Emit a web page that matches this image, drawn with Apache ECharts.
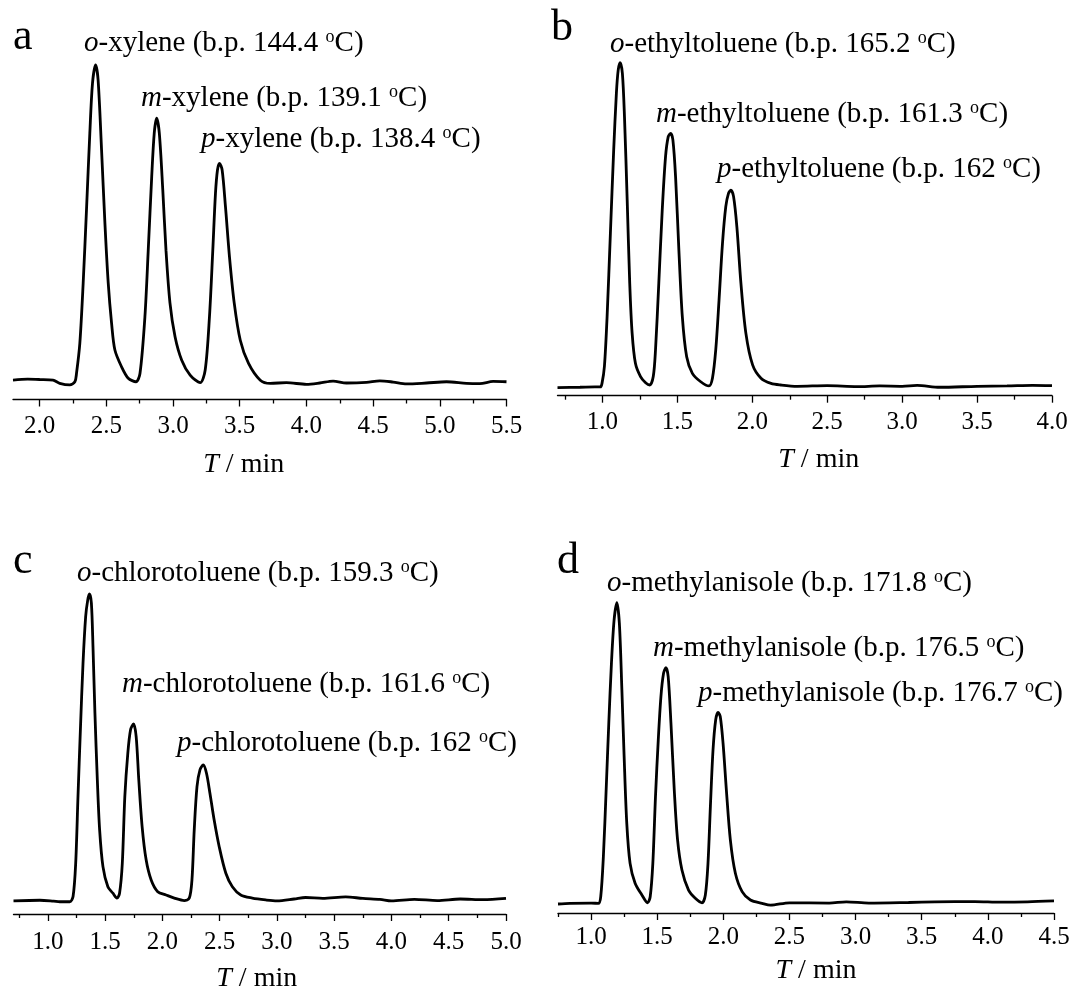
<!DOCTYPE html>
<html><head><meta charset="utf-8">
<script src="https://cdn.jsdelivr.net/npm/echarts@6/dist/echarts.min.js"></script>
<style>html,body{margin:0;padding:0;background:#fff}#c{width:1072px;height:987px}</style>
</head><body><div id="c"></div>
<script>
// ---------------- DATA ----------------
const isomers = ['o', 'm', 'p'];
const compounds = ['xylene', 'ethyltoluene', 'chlorotoluene', 'methylanisole'];
const panelLetters = ['a', 'b', 'c', 'd'];
const boilingA = ['144.4', '139.1', '138.4'];
const boilingB = ['165.2', '161.3', '162'];
const boilingC = ['159.3', '161.6', '162'];
const boilingD = ['171.8', '176.5', '176.7'];

const majorA = [2.0, 2.5, 3.0, 3.5, 4.0, 4.5, 5.0, 5.5];
const minorA = [2.25, 2.75, 3.25, 3.75, 4.25, 4.75, 5.25];
const majorB = [1.0, 1.5, 2.0, 2.5, 3.0, 3.5, 4.0];
const minorB = [0.75, 1.25, 1.75, 2.25, 2.75, 3.25, 3.75];
const majorC = [1.0, 1.5, 2.0, 2.5, 3.0, 3.5, 4.0, 4.5, 5.0];
const minorC = [0.75, 1.25, 1.75, 2.25, 2.75, 3.25, 3.75, 4.25, 4.75];
const majorD = [1.0, 1.5, 2.0, 2.5, 3.0, 3.5, 4.0, 4.5];
const minorD = [0.75, 1.25, 1.75, 2.25, 2.75, 3.25, 3.75, 4.25];

// [retention time (min), signal (a.u.)]
const traceA = [[1.80,0.6],[1.91,0.9],[2.00,0.8],[2.10,0.6],[2.15,-0.4],[2.226,-0.9],[2.264,0.1],[2.276,2.7],[2.301,12.2],[2.326,31.1],[2.351,54.3],[2.376,78.5],[2.396,94.2],[2.419,100],[2.438,95.3],[2.464,73.2],[2.489,50.2],[2.514,31.2],[2.539,18.6],[2.564,10.1],[2.614,4.8],[2.664,1.2],[2.722,0.1],[2.752,2.7],[2.789,20.6],[2.814,41.6],[2.840,64.8],[2.859,78.5],[2.877,83.2],[2.897,78.5],[2.923,60.6],[2.947,41.6],[2.977,24.9],[3.015,14.3],[3.065,6.9],[3.128,2.2],[3.203,-0.2],[3.241,3.8],[3.273,20.6],[3.298,41.6],[3.318,59.5],[3.333,66.9],[3.348,69.0],[3.368,66.9],[3.393,55.3],[3.423,39.5],[3.459,24.8],[3.504,13.2],[3.566,5.9],[3.654,0.6],[3.729,-0.4],[3.85,-0.2],[4.0,-0.7],[4.1,-0.3],[4.2,0.3],[4.3,-0.3],[4.45,-0.1],[4.55,0.4],[4.65,0.0],[4.75,-0.6],[4.9,-0.3],[5.05,0.1],[5.2,-0.4],[5.3,-0.5],[5.4,0.2],[5.5,0.1]];
const traceB = [[0.70,-0.2],[0.85,-0.1],[0.95,0.0],[0.986,0.0],[0.997,1.1],[1.013,6.3],[1.031,21.7],[1.053,47.4],[1.075,73.1],[1.093,90.6],[1.105,97.7],[1.118,100],[1.133,96.7],[1.147,83.3],[1.165,57.7],[1.182,32.0],[1.198,16.6],[1.220,7.3],[1.254,3.2],[1.288,1.3],[1.316,0.6],[1.339,3.2],[1.354,11.4],[1.376,32.0],[1.399,54.6],[1.421,71.0],[1.439,77.2],[1.455,78.2],[1.470,76.2],[1.488,64.8],[1.510,42.2],[1.533,21.7],[1.562,9.3],[1.600,4.2],[1.656,1.6],[1.711,0.3],[1.734,2.7],[1.756,11.4],[1.778,26.8],[1.801,44.3],[1.823,55.6],[1.841,59.7],[1.857,60.7],[1.875,58.7],[1.897,49.4],[1.924,32.0],[1.957,16.6],[2.002,6.8],[2.058,2.7],[2.125,1.1],[2.191,0.6],[2.3,0.2],[2.5,0.4],[2.7,0.1],[2.85,0.3],[3.0,0.2],[3.1,0.5],[3.25,-0.1],[3.5,0.2],[3.7,0.3],[3.87,0.5],[4.0,0.4]];
const traceC = [[0.70,-0.3],[0.93,-0.1],[1.05,-0.4],[1.104,-0.6],[1.191,-0.6],[1.220,1.1],[1.243,12.0],[1.263,33.8],[1.284,55.6],[1.307,77.4],[1.330,92.6],[1.348,98.0],[1.363,100],[1.380,97.0],[1.394,82.8],[1.411,61.0],[1.432,39.2],[1.452,22.9],[1.481,10.9],[1.524,4.3],[1.568,2.2],[1.603,0.6],[1.626,2.2],[1.650,12.0],[1.672,33.8],[1.698,47.9],[1.722,55.6],[1.748,57.5],[1.771,53.4],[1.794,39.2],[1.823,24.0],[1.858,13.1],[1.902,6.5],[1.959,2.7],[2.032,1.6],[2.104,0.6],[2.191,-0.2],[2.235,0.6],[2.258,6.5],[2.278,22.9],[2.302,37.0],[2.328,42.5],[2.357,44.1],[2.385,41.4],[2.415,34.9],[2.452,26.1],[2.496,17.4],[2.554,8.7],[2.611,4.3],[2.684,1.6],[2.785,0.6],[2.902,0.0],[3.0,-0.3],[3.15,0.3],[3.25,0.8],[3.4,0.5],[3.6,1.0],[3.75,0.5],[3.9,0.2],[4.0,-0.3],[4.2,0.2],[4.4,-0.2],[4.6,0.3],[4.8,0.1],[5.0,0.5]];
const traceD = [[0.75,-0.2],[0.841,0.0],[1.0,0.1],[1.055,0.0],[1.073,2.2],[1.093,15.5],[1.114,37.7],[1.134,59.9],[1.154,79.8],[1.174,94.2],[1.195,100],[1.214,93.1],[1.233,71.0],[1.250,48.8],[1.270,26.6],[1.295,13.3],[1.333,6.7],[1.384,2.8],[1.427,0.2],[1.447,2.2],[1.467,13.3],[1.487,35.5],[1.508,54.3],[1.528,68.7],[1.548,76.5],[1.566,78.4],[1.583,75.4],[1.604,59.9],[1.629,37.7],[1.654,21.1],[1.687,11.1],[1.737,4.4],[1.788,1.7],[1.839,0.2],[1.864,2.8],[1.884,13.3],[1.902,32.1],[1.922,51.0],[1.942,61.0],[1.960,63.5],[1.977,62.1],[1.998,53.2],[2.023,37.7],[2.053,21.1],[2.091,10.0],[2.142,3.9],[2.205,1.1],[2.293,0.0],[2.356,-0.6],[2.5,0.2],[2.8,0.1],[2.93,0.5],[3.1,0.1],[3.4,0.3],[3.6,0.5],[3.9,0.6],[4.1,0.4],[4.3,0.5],[4.5,0.8]];

// ---------------- LAYOUT ----------------
const FONT = '"Liberation Serif", "Times New Roman", serif';
const traces = [traceA, traceB, traceC, traceD];
const boilings = [boilingA, boilingB, boilingC, boilingD];
const majors = [majorA, majorB, majorC, majorD];
const minors = [minorA, minorB, minorC, minorD];
const layout = [
  { grid:{left:13, top:65, width:493.5, height:334.5}, xMin:1.8, xMax:5.5, yMin:-5.5, labelMargin:14, nameGap:51, namePad:[0,32,0,0],
    letter:[13,37], labels:[[84,43],[141,98],[201,139]] },
  { grid:{left:557.5, top:62.7, width:494.5, height:333}, xMin:0.7, xMax:4.0, yMin:-2.7, labelMargin:14, nameGap:50, namePad:[0,0,0,28],
    letter:[551,28], labels:[[610,44],[656,114],[717,169]] },
  { grid:{left:13.5, top:594, width:492.5, height:320}, xMin:0.7, xMax:5.0, yMin:-4.6, labelMargin:16, nameGap:51, namePad:[0,6,0,0],
    letter:[13,561], labels:[[77,573],[122,684],[177,743]] },
  { grid:{left:558, top:602.7, width:496, height:310.3}, xMin:0.75, xMax:4.5, yMin:-3.2, labelMargin:12, nameGap:44, namePad:[0,0,0,20],
    letter:[557,561], labels:[[607,583],[653,648],[698,693]] }
];

const axisColor = '#000';
const xAxes = [];
layout.forEach((l, i) => {
  xAxes.push({
    type:'value', gridIndex:i, position:'bottom', min:l.xMin, max:l.xMax,
    axisLine:{show:true, onZero:false, lineStyle:{color:axisColor, width:1.3}},
    axisTick:{show:true, length:7, customValues:majors[i], lineStyle:{color:axisColor, width:1.3}},
    axisLabel:{customValues:majors[i], formatter:v => v.toFixed(1), margin:l.labelMargin,
      fontFamily:FONT, fontSize:25, color:'#000'},
    splitLine:{show:false},
    name:'{i|T} / min', nameLocation:'middle', nameGap:l.nameGap,
    nameTextStyle:{fontFamily:FONT, fontSize:28, color:'#000', padding:l.namePad,
      rich:{i:{fontStyle:'italic', fontFamily:FONT, fontSize:28, color:'#000'}}}
  });
  xAxes.push({
    type:'value', gridIndex:i, position:'bottom', min:l.xMin, max:l.xMax,
    axisLine:{show:false, onZero:false},
    axisTick:{show:true, length:4, customValues:minors[i], lineStyle:{color:axisColor, width:1.3}},
    axisLabel:{show:false}, splitLine:{show:false}
  });
});

const richPeak = {
  i:{fontStyle:'italic', fontFamily:FONT, fontSize:29, fill:'#000', color:'#000'},
  s:{fontFamily:FONT, fontSize:18, lineHeight:12, verticalAlign:'top', fill:'#000', color:'#000'}
};
const graphics = [];
layout.forEach((l, i) => {
  graphics.push({type:'text', x:l.letter[0], y:l.letter[1],
    style:{text:panelLetters[i], fontFamily:FONT, fontSize:44, fill:'#000', align:'left', verticalAlign:'middle'}});
  isomers.forEach((iso, k) => {
    graphics.push({type:'text', x:l.labels[k][0], y:l.labels[k][1],
      style:{text:`{i|${iso}}-${compounds[i]} (b.p. ${boilings[i][k]} {s|o}C)`, rich:richPeak,
        fontFamily:FONT, fontSize:29, fill:'#000', align:'left', verticalAlign:'middle'}});
  });
});

const chart = echarts.init(document.getElementById('c'), null, {renderer:'canvas'});
chart.setOption({
  animation:false,
  backgroundColor:'#fff',
  grid: layout.map(l => Object.assign({containLabel:false, outerBoundsMode:'none'}, l.grid)),
  xAxis: xAxes,
  yAxis: layout.map((l, i) => ({type:'value', gridIndex:i, min:l.yMin, max:100, show:false,
    axisLine:{onZero:false}, splitLine:{show:false}})),
  series: traces.map((tr, i) => ({type:'line', xAxisIndex:2*i, yAxisIndex:i, data:tr,
    showSymbol:false, smooth:0.3, clip:false, lineStyle:{color:'#000', width:2.8}})),
  graphic: graphics
});
</script></body></html>
